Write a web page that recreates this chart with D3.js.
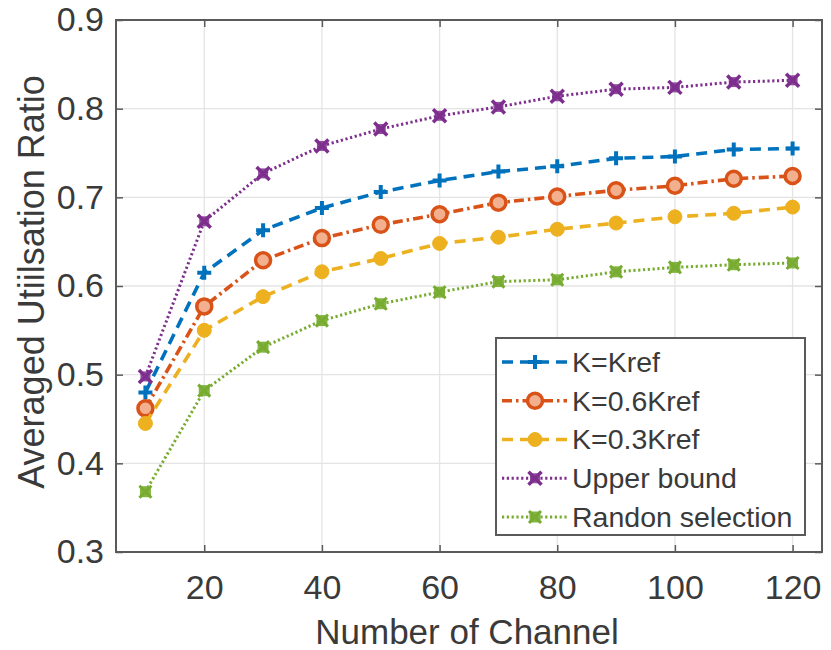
<!DOCTYPE html>
<html>
<head>
<meta charset="utf-8">
<script src="https://cdn.jsdelivr.net/npm/d3@7"></script>
<style>
  html, body { margin: 0; padding: 0; background: #ffffff; }
  svg text { font-family: "Liberation Sans", Arial, Helvetica, sans-serif; fill: #3a3a3a; }
</style>
</head>
<body>
<svg id="chart" width="831" height="650"></svg>
<script>
// Channel counts on the x axis
const channels = [10, 20, 30, 40, 50, 60, 70, 80, 90, 100, 110, 120];

// Averaged utilisation ratio for each scheme
const kRef      = [0.480, 0.615, 0.663, 0.688, 0.706, 0.719, 0.729, 0.735, 0.744, 0.746, 0.754, 0.755];
const k06Ref    = [0.462, 0.577, 0.629, 0.654, 0.669, 0.681, 0.694, 0.701, 0.708, 0.713, 0.721, 0.724];
const k03Ref    = [0.445, 0.550, 0.588, 0.616, 0.631, 0.648, 0.655, 0.664, 0.671, 0.678, 0.682, 0.689];
const upperBound = [0.498, 0.673, 0.727, 0.758, 0.777, 0.792, 0.802, 0.814, 0.822, 0.824, 0.830, 0.832];
const randomSel = [0.368, 0.482, 0.531, 0.561, 0.580, 0.593, 0.605, 0.607, 0.616, 0.621, 0.624, 0.626];

const seriesNames = ["K=Kref", "K=0.6Kref", "K=0.3Kref", "Upper bound", "Randon selection"];

// Axis ticks
const xTicks = [20, 40, 60, 80, 100, 120];
const yTicks = [0.3, 0.4, 0.5, 0.6, 0.7, 0.8, 0.9];

const svg = d3.select("#chart");
const plot = { left: 116, right: 822, top: 20, bottom: 552 };

const x = d3.scaleLinear().domain([5, 125]).range([plot.left, plot.right]);
const y = d3.scaleLinear().domain([0.3, 0.9]).range([plot.bottom, plot.top]);

// Grid
const grid = svg.append("g").attr("class", "grid");
grid.selectAll("line.gx").data(xTicks).join("line")
  .attr("x1", d => x(d)).attr("x2", d => x(d))
  .attr("y1", plot.top).attr("y2", plot.bottom)
  .attr("stroke", "#e4e4e4").attr("stroke-width", 1.3);
grid.selectAll("line.gy").data(yTicks).join("line")
  .attr("x1", plot.left).attr("x2", plot.right)
  .attr("y1", d => y(d)).attr("y2", d => y(d))
  .attr("stroke", "#e4e4e4").attr("stroke-width", 1.3);

// Axes (ticks pointing inward, box on all four sides)
const tickLen = 7;
const axisColor = "#5a5a5a";
const fontTick = 34;

const xAxisB = d3.axisBottom(x).tickValues(xTicks).tickSizeInner(-tickLen).tickSizeOuter(0).tickPadding(14);
const gxB = svg.append("g").attr("transform", `translate(0,${plot.bottom})`).call(xAxisB);
gxB.select(".domain").remove();
gxB.selectAll("line").attr("stroke", axisColor).attr("stroke-width", 1.5);
gxB.selectAll("text").style("font-size", fontTick + "px").attr("fill", "#3a3a3a")
  .attr("dy", "0.71em").attr("y", 23);

const xAxisT = d3.axisTop(x).tickValues(xTicks).tickSizeInner(-tickLen).tickSizeOuter(0).tickFormat("");
const gxT = svg.append("g").attr("transform", `translate(0,${plot.top})`).call(xAxisT);
gxT.select(".domain").remove();
gxT.selectAll("line").attr("stroke", axisColor).attr("stroke-width", 1.5);

const yAxisL = d3.axisLeft(y).tickValues(yTicks).tickSizeInner(-tickLen).tickSizeOuter(0)
  .tickFormat(d3.format(".1f"));
const gyL = svg.append("g").attr("transform", `translate(${plot.left},0)`).call(yAxisL);
gyL.select(".domain").remove();
gyL.selectAll("line").attr("stroke", axisColor).attr("stroke-width", 1.5);
gyL.selectAll("text").style("font-size", fontTick + "px").attr("fill", "#3a3a3a")
  .attr("x", -12);

const yAxisR = d3.axisRight(y).tickValues(yTicks).tickSizeInner(-tickLen).tickSizeOuter(0).tickFormat("");
const gyR = svg.append("g").attr("transform", `translate(${plot.right},0)`).call(yAxisR);
gyR.select(".domain").remove();
gyR.selectAll("line").attr("stroke", axisColor).attr("stroke-width", 1.5);

svg.append("rect")
  .attr("x", plot.left).attr("y", plot.top)
  .attr("width", plot.right - plot.left).attr("height", plot.bottom - plot.top)
  .attr("fill", "none").attr("stroke", axisColor).attr("stroke-width", 2);

// Axis titles
svg.append("text")
  .attr("x", (x(5) + x(125)) / 2 - 2).attr("y", 644)
  .attr("text-anchor", "middle")
  .style("font-size", "35px")
  .text("Number of Channel");

svg.append("text")
  .attr("transform", `translate(44,${(plot.top + plot.bottom) / 2 - 4}) rotate(-90)`)
  .attr("text-anchor", "middle")
  .style("font-size", "36px")
  .text("Averaged Utiilsation Ratio");

// Series styles
const series = [
  { name: seriesNames[0], values: kRef,       color: "#0072BD", dash: "11,7",        marker: "plus" },
  { name: seriesNames[1], values: k06Ref,     color: "#D95319", dash: "10,4,2.5,4",  marker: "circle" },
  { name: seriesNames[2], values: k03Ref,     color: "#EDB120", dash: "11,7",        marker: "dot" },
  { name: seriesNames[3], values: upperBound, color: "#7E2F8E", dash: "2.2,2.6",     marker: "cross" },
  { name: seriesNames[4], values: randomSel,  color: "#77AC30", dash: "2.2,2.6",     marker: "square" }
];

const line = d3.line().x(d => x(d[0])).y(d => y(d[1]));

function drawMarker(g, type, cx, cy, color) {
  if (type === "plus") {
    g.append("path").attr("d", `M${cx - 7},${cy}H${cx + 7}M${cx},${cy - 7}V${cy + 7}`)
      .attr("stroke", color).attr("stroke-width", 4).attr("fill", "none");
  } else if (type === "circle") {
    g.append("circle").attr("cx", cx).attr("cy", cy).attr("r", 7.5)
      .attr("fill", "#f3b08f").attr("stroke", color).attr("stroke-width", 3.5);
  } else if (type === "dot") {
    g.append("circle").attr("cx", cx).attr("cy", cy).attr("r", 7)
      .attr("fill", color).attr("stroke", color).attr("stroke-width", 1);
  } else if (type === "cross") {
    g.append("rect").attr("x", cx - 5).attr("y", cy - 5).attr("width", 10).attr("height", 10)
      .attr("fill", color).attr("opacity", 0.85);
    g.append("path").attr("d", `M${cx - 6.5},${cy - 6.5}L${cx + 6.5},${cy + 6.5}M${cx - 6.5},${cy + 6.5}L${cx + 6.5},${cy - 6.5}`)
      .attr("stroke", color).attr("stroke-width", 3.5).attr("fill", "none");
  } else if (type === "square") {
    g.append("rect").attr("x", cx - 5.5).attr("y", cy - 5.5).attr("width", 11).attr("height", 11)
      .attr("fill", color).attr("opacity", 0.9);
    g.append("path").attr("d", `M${cx - 6},${cy - 6}L${cx + 6},${cy + 6}M${cx - 6},${cy + 6}L${cx + 6},${cy - 6}`)
      .attr("stroke", color).attr("stroke-width", 3).attr("fill", "none");
  }
}

const seriesG = svg.append("g").attr("class", "series");
series.forEach(s => {
  const pts = channels.map((c, i) => [c, s.values[i]]);
  seriesG.append("path")
    .attr("d", line(pts))
    .attr("fill", "none")
    .attr("stroke", s.color)
    .attr("stroke-width", s.marker === "cross" || s.marker === "square" ? 3 : 3.6)
    .attr("stroke-dasharray", s.dash);
  const mg = seriesG.append("g");
  pts.forEach(p => drawMarker(mg, s.marker, x(p[0]), y(p[1]), s.color));
});

// Legend
const legend = { x: 496, y: 338, w: 309, h: 197 };
const lg = svg.append("g").attr("class", "legend");
lg.append("rect")
  .attr("x", legend.x).attr("y", legend.y).attr("width", legend.w).attr("height", legend.h)
  .attr("fill", "#ffffff").attr("stroke", "#5a5a5a").attr("stroke-width", 2);

const rowY = d3.scaleLinear().domain([0, 4]).range([legend.y + 24, legend.y + 179]);
series.forEach((s, i) => {
  const cy = rowY(i);
  lg.append("line")
    .attr("x1", legend.x + 6).attr("x2", legend.x + 71)
    .attr("y1", cy).attr("y2", cy)
    .attr("stroke", s.color)
    .attr("stroke-width", s.marker === "cross" || s.marker === "square" ? 3 : 3.6)
    .attr("stroke-dasharray", s.dash);
  drawMarker(lg, s.marker, legend.x + 39, cy, s.color);
  lg.append("text")
    .attr("x", legend.x + 76).attr("y", cy)
    .attr("dy", "0.35em")
    .style("font-size", "28.5px")
    .text(s.name);
});
</script>
</body>
</html>
